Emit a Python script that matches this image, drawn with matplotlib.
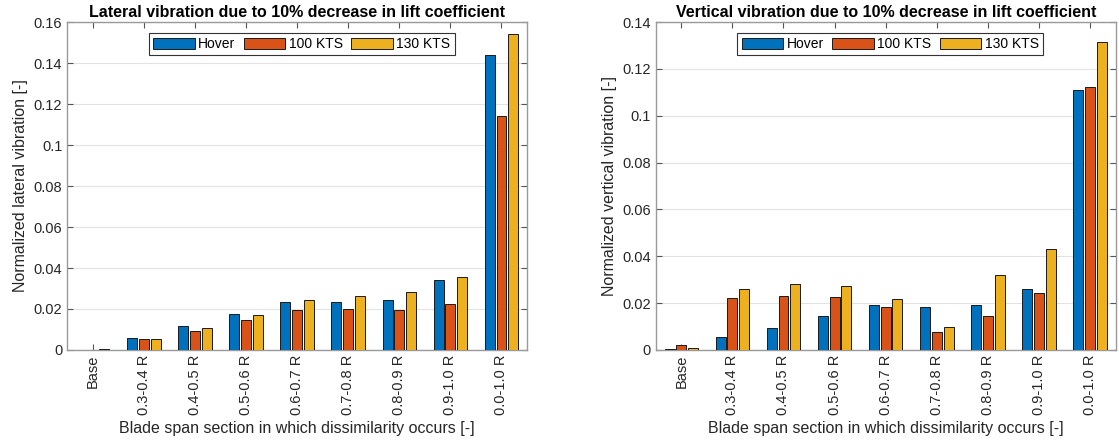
import numpy as np
import matplotlib.pyplot as plt
from matplotlib.ticker import FormatStrFormatter

plt.rcParams['font.family'] = ['Liberation Sans', 'DejaVu Sans']

sections = ['Base', '0.3-0.4 R', '0.4-0.5 R', '0.5-0.6 R', '0.6-0.7 R',
            '0.7-0.8 R', '0.8-0.9 R', '0.9-1.0 R', '0.0-1.0 R']
series_names = ['Hover', '100 KTS', '130 KTS']

lat_hover = [0.0001, 0.0060, 0.0115, 0.0175, 0.0235, 0.0235, 0.0242, 0.0340, 0.1440]
lat_100 = [0.0002, 0.0052, 0.0095, 0.0148, 0.0195, 0.0200, 0.0195, 0.0225, 0.1140]
lat_130 = [0.0005, 0.0052, 0.0105, 0.0170, 0.0242, 0.0265, 0.0285, 0.0355, 0.1540]

vert_hover = [0.0005, 0.0055, 0.0095, 0.0145, 0.0190, 0.0185, 0.0190, 0.0260, 0.1110]
vert_100 = [0.0020, 0.0220, 0.0230, 0.0225, 0.0183, 0.0075, 0.0145, 0.0243, 0.1125]
vert_130 = [0.0010, 0.0260, 0.0280, 0.0275, 0.0218, 0.0097, 0.0320, 0.0432, 0.1315]

colors = ['#0072BD', '#D95319', '#EDB120']

fig = plt.figure(figsize=(11.19, 4.43), dpi=100)
ax1 = fig.add_axes([0.060, 0.210, 0.411, 0.740])
ax2 = fig.add_axes([0.586, 0.210, 0.411, 0.740])


def draw(ax, data, title, ylabel, ymax, step):
    x = np.arange(1, len(sections) + 1)
    for i, (vals, name) in enumerate(zip(data, series_names)):
        ax.bar(x + (i - 1) * 0.23, vals, width=0.195, color=colors[i],
               edgecolor='#1a1a1a', linewidth=0.7, label=name, zorder=3)
    ax.set_xlim(0.5, len(sections) + 0.5)
    ax.set_ylim(0, ymax)
    ax.set_yticks(np.arange(0, ymax + 1e-9, step))
    ax.yaxis.set_major_formatter(FormatStrFormatter('%g'))
    ax.set_xticks(x)
    ax.set_xticklabels(sections, rotation=90)
    ax.grid(axis='y', color='#e3e3e3', linewidth=0.8, zorder=0)
    ax.set_axisbelow(True)
    ax.tick_params(direction='in', top=True, right=True, length=4,
                   color='#555555', labelcolor='#262626', labelsize=10.5)
    for s in ax.spines.values():
        s.set_color('#999999')
        s.set_linewidth(1.0)
    ax.set_title(title, fontweight='bold', fontsize=11.5, pad=4)
    ax.set_ylabel(ylabel, fontsize=11.5, color='#262626')
    ax.set_xlabel('Blade span section in which dissimilarity occurs [-]',
                  fontsize=11.5, color='#262626')
    leg = ax.legend(loc='upper center', ncol=3, fontsize=10,
                    bbox_to_anchor=(0.51, 0.975), fancybox=False,
                    framealpha=1, edgecolor='#333333', handlelength=3.0,
                    handleheight=0.9, columnspacing=0.6, handletextpad=0.25,
                    borderpad=0.3, borderaxespad=0.2)
    leg.get_frame().set_linewidth(0.8)


draw(ax1, [lat_hover, lat_100, lat_130],
     'Lateral vibration due to 10% decrease in lift coefficient',
     'Normalized lateral vibration [-]', 0.16, 0.02)
draw(ax2, [vert_hover, vert_100, vert_130],
     'Vertical vibration due to 10% decrease in lift coefficient',
     'Normalized vertical vibration [-]', 0.14, 0.02)

fig.savefig('out.png', dpi=100)
